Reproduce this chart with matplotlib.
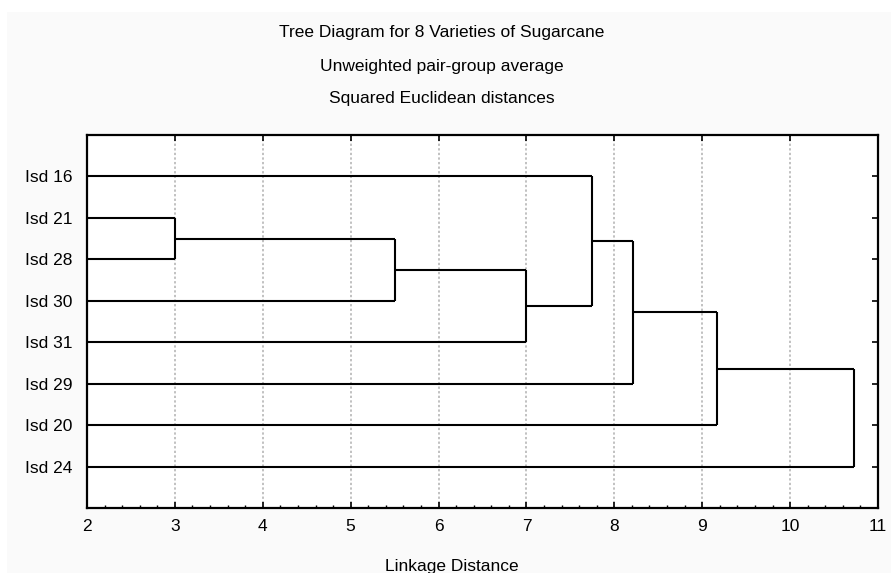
import numpy as np
import matplotlib.pyplot as plt
from matplotlib.patches import Rectangle

plt.rcParams['font.family'] = ['Liberation Sans', 'DejaVu Sans']

# leaves, top to bottom
labels = ["Isd 16", "Isd 21", "Isd 28", "Isd 30", "Isd 31", "Isd 29", "Isd 20", "Isd 24"]
# merges: (cluster a, cluster b, linkage distance); new clusters get ids 8, 9, ...
merge_a = [1, 8, 9, 0, 11, 12, 13]
merge_b = [2, 3, 4, 10, 5, 6, 7]
merge_dist = [3.0, 5.5, 7.0, 7.75, 8.21, 9.17, 10.73]

x_min, x_max = 2, 11

fig = plt.figure(figsize=(8.91, 5.73), dpi=100, facecolor="#fafafa")
# white strip along top and left edge
fig.patches.append(Rectangle((0, 1 - 12 / 573), 1, 12 / 573, transform=fig.transFigure,
                             facecolor="white", edgecolor="none", zorder=0))
fig.patches.append(Rectangle((0, 0), 7 / 891, 1, transform=fig.transFigure,
                             facecolor="white", edgecolor="none", zorder=0))

ax = fig.add_axes([87 / 891, 1 - 508 / 573, (878 - 87) / 891, (508 - 135) / 573])
ax.set_facecolor("white")

n = len(labels)
pos_y = {i: i + 1.0 for i in range(n)}
pos_x = {i: x_min for i in range(n)}

for k, (a, b, d) in enumerate(zip(merge_a, merge_b, merge_dist)):
    ya, yb = pos_y[a], pos_y[b]
    ax.plot([pos_x[a], d], [ya, ya], color="black", linewidth=1.5, solid_capstyle="butt", zorder=3)
    ax.plot([pos_x[b], d], [yb, yb], color="black", linewidth=1.5, solid_capstyle="butt", zorder=3)
    ax.plot([d, d], [ya, yb], color="black", linewidth=1.5, solid_capstyle="butt", zorder=3)
    new_id = n + k
    pos_y[new_id] = (ya + yb) / 2
    pos_x[new_id] = d

ax.set_xlim(x_min, x_max)
ax.set_ylim(n + 1, 0)

ax.set_xticks(np.arange(x_min, x_max + 1, 1))
ax.set_xticks(np.arange(x_min, x_max + 0.01, 0.2), minor=True)
ax.set_yticks(np.arange(1, n + 1))
ax.set_yticklabels(labels)

ax.tick_params(axis="x", which="major", direction="in", length=4, width=1.2,
               top=True, labelsize=12.5, pad=8, color="black")
ax.tick_params(axis="x", which="minor", direction="in", length=2.5, width=1,
               top=False)
ax.tick_params(axis="y", which="major", direction="in", length=4, width=1.2,
               left=False, right=True, labelleft=True, labelsize=12.5, pad=10.5)

for s in ax.spines.values():
    s.set_linewidth(1.6)
    s.set_color("black")

ax.grid(axis="x", which="major", linestyle=(0, (1.5, 1.5)), color="#b0b0b0", linewidth=1.1)
ax.set_axisbelow(True)

fig.text(442 / 891, 1 - 33 / 573, "Tree Diagram for 8 Varieties of Sugarcane",
         ha="center", va="center", fontsize=12.5)
fig.text(442 / 891, 1 - 67 / 573, "Unweighted pair-group average",
         ha="center", va="center", fontsize=12.5)
fig.text(442 / 891, 1 - 99 / 573, "Squared Euclidean distances",
         ha="center", va="center", fontsize=12.5)
fig.text(452 / 891, 1 - 566 / 573, "Linkage Distance",
         ha="center", va="center", fontsize=12.5)

fig.savefig("out.png", dpi=100, facecolor=fig.get_facecolor())
